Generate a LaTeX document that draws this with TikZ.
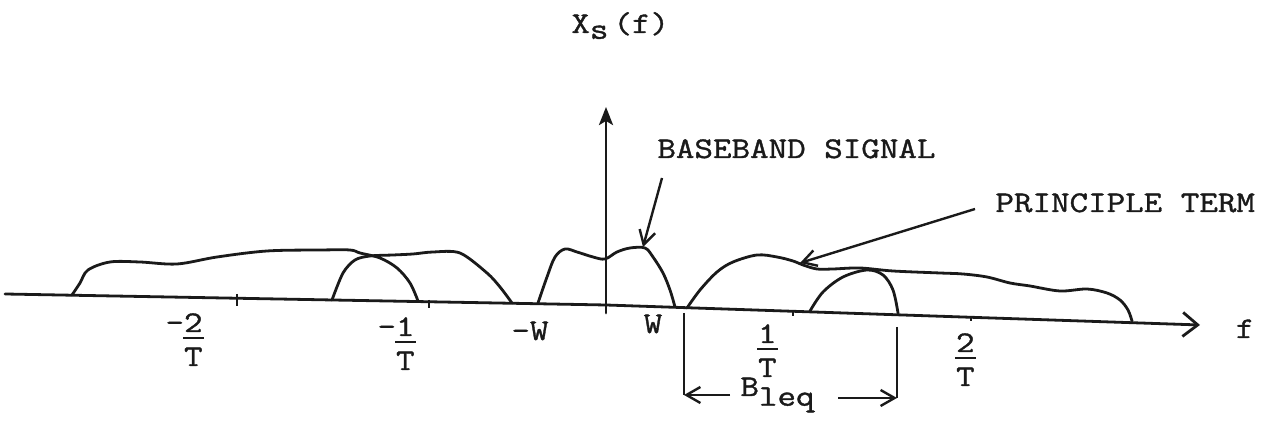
\documentclass[tikz,border=0pt]{standalone}
\usepackage{fontspec}
\setmainfont{Latin Modern Mono}[FakeStretch=1.2,FakeBold=1.2]
\usetikzlibrary{arrows.meta,positioning}
\definecolor{ink}{HTML}{1A1A1A}
\newcommand\numbar[1]{\setbox0\hbox{#1}\rlap{\kern-0.5pt\rule[-3.5pt]{\dimexpr\wd0+1pt\relax}{1.2pt}}\box0}
\newcommand\fraclbl[3]{\begin{tabular}[t]{@{}r@{}c@{}}#1&\numbar{#2}\\&#3\end{tabular}}
\tikzset{
  curve/.style={draw=ink, line width=1.4pt, line cap=round, line join=round},
  axisline/.style={curve, -{Straight Barb[length=7.5pt,width=12pt]}},
  vaxis/.style={curve, -{Stealth[length=9pt,width=7pt,inset=2pt]}},
  ptr/.style={draw=ink, line width=1.2pt, -{Straight Barb[length=7pt,width=8pt]}},
  dimline/.style={draw=ink, line width=1.2pt},
  lbl/.style={inner sep=0pt, font=\fontsize{15}{17}\selectfont, text=ink},
  tick/.style={draw=ink, line width=1pt}
}
\begin{document}
\begin{tikzpicture}[x=0.5pt,y=-0.5pt]
  \useasboundingbox (0,0) rectangle (1265,431);
  % axes
  \coordinate (fl) at (5,294);
  \coordinate (fo) at (606,305);
  \coordinate (fr) at (1200,325);
  \coordinate (vb) at (606,313);
  \coordinate (vt) at (606,107);
  \draw[axisline] (fl) -- (fo) -- (fr);
  \draw[vaxis] (vb) -- (vt);
  \foreach \tx/\ty/\tl in {237/300/6, 429/304/4, 793/314/2, 971/319/2}
    \draw[tick] (\tx,\ty-\tl) -- (\tx,\ty+\tl);
  % spectra
  \draw[curve] plot[smooth, tension=0.55] coordinates {(72,295) (80,283) (88,270) (110,262) (140,262) (177,264)
    (217,257) (267,251) (320,250) (350,250) (360,253) (380,258) (397,268) (410,283) (418,301)};
  \draw[curve] plot[smooth, tension=0.5] coordinates {(332,300) (343,273) (355,260) (370,256) (393,255) (413,254)
    (433,252) (460,253) (487,273) (500,287) (512,303)};
  \draw[curve] plot[smooth, tension=0.55] coordinates {(538,303) (547,277) (555,257) (565,249) (577,252) (593,257)
    (605,259) (617,252) (630,248) (645,248) (653,257) (663,273) (670,290) (675,307)};
  \draw[curve] plot[smooth, tension=0.55] coordinates {(687,308) (700,290) (717,272) (733,262) (757,255) (777,257)
    (793,261) (803,265) (817,269) (833,269) (860,268) (893,271) (940,273) (963,274) (987,277) (1010,283)
    (1030,286) (1060,291) (1087,289) (1107,293) (1120,300) (1128,310) (1132,321)};
  \draw[curve] plot[smooth, tension=0.55] coordinates {(810,311) (823,292) (843,277) (867,270) (883,275) (893,290) (898,313)};
  % labels
  \node[lbl, anchor=base west] (xs) at (571,33) {X\raisebox{-.45ex}{s}\,(f)};
  \node[lbl, anchor=base] (fax) at (1245,338) {f};
  \node[lbl, anchor=base east] (m2t) at (203,332) {\fraclbl{-}{2}{T}};
  \node[lbl, anchor=base east] (m1t) at (415,336) {\fraclbl{-}{1}{T}};
  \node[lbl, anchor=base] (mw) at (530,340) {-W};
  \node[lbl, anchor=base] (pw) at (653,333) {W};
  \node[lbl, anchor=base east] (p1t) at (777,343) {\fraclbl{}{1}{T}};
  \node[lbl, anchor=base east] (p2t) at (975,352) {\fraclbl{}{2}{T}};
  \node[lbl, anchor=base west] (bbtxt) at (657,158) {BASEBAND SIGNAL};
  \node[lbl, anchor=base west] (pttxt) at (995,212) {PRINCIPLE TERM};
  \node[lbl, anchor=base west] (bleq) at (740,396) {B\raisebox{-.75ex}{leq}};
  % pointers
  \coordinate (bbtail) at (662,178);
  \coordinate (bbtip) at (643,247);
  \draw[ptr] (bbtail) -- (bbtip);
  \coordinate (ptstart) at (975,209);
  \coordinate (pttip) at (800,263);
  \draw[ptr] (ptstart) -- (pttip);
  % bandwidth
  \coordinate (bwl) at (684,313);
  \coordinate (bwlb) at (684,395);
  \coordinate (bwr) at (897,327);
  \coordinate (bwrb) at (897,398);
  \draw[dimline] (bwl) -- (bwlb);
  \draw[dimline] (bwr) -- (bwrb);
  \coordinate (bla) at (730,395);
  \coordinate (bra) at (838,398);
  \draw[ptr] (bla) -- (bwlb);
  \draw[ptr] (bra) -- (bwrb);
\end{tikzpicture}
\end{document}
